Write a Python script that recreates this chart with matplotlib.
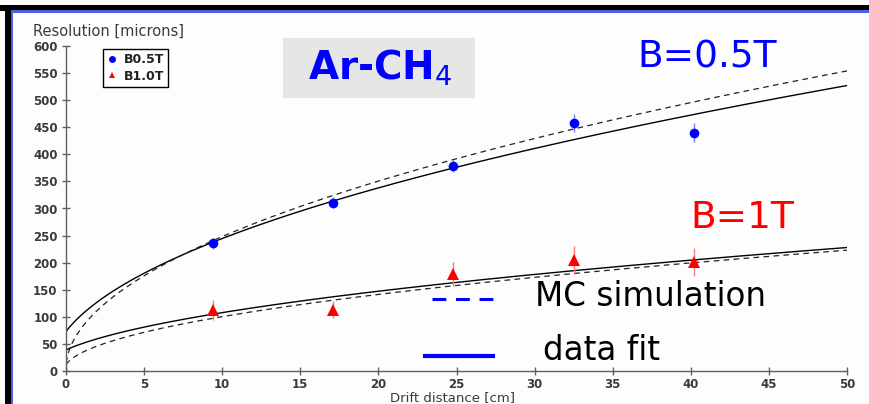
import numpy as np
import matplotlib
matplotlib.use("Agg")
import matplotlib.pyplot as plt
from matplotlib.lines import Line2D
from matplotlib.patches import Rectangle

# ---- data ----
drift_cm = [9.4, 17.1, 24.8, 32.5, 40.2]
res_b05 = [236, 311, 378, 458, 440]
err_b05 = [10, 10, 11, 16, 18]
res_b10 = [113, 113, 179, 205, 201]
err_b10 = [19, 16, 22, 25, 26]

# fit / simulation curves: sigma(x) = sqrt(s0^2 + D^2 * x)
fit_b05 = (73.0, 5448.0)
mc_b05 = (15.0, 6134.0)
fit_b10 = (39.0, 1009.0)
mc_b10 = (12.0, 992.0)

x_ticks = list(range(0, 51, 5))
y_ticks = list(range(0, 601, 50))

W, H = 869, 404
fig = plt.figure(figsize=(W / 100, H / 100), dpi=100, facecolor="#fdfdfd")

def fx(px):
    return px / W

def fy(py):
    return 1 - py / H

ax = fig.add_axes([fx(66), fy(371), fx(847) - fx(66), fy(46) - fy(371)])
ax.set_facecolor("none")
ax.set_xlim(0, 50)
ax.set_ylim(0, 600)
for s in ("top", "right"):
    ax.spines[s].set_visible(False)
for s in ("left", "bottom"):
    ax.spines[s].set_color("#606060")
    ax.spines[s].set_linewidth(1.0)
ax.set_xticks(x_ticks)
ax.set_yticks(y_ticks)
ax.tick_params(direction="inout", length=6, width=1, color="#606060",
               labelcolor="#3a3a3a")
ax.tick_params(axis="x", pad=2)
ax.tick_params(axis="y", pad=3)
for lab in ax.get_xticklabels() + ax.get_yticklabels():
    lab.set_fontweight("bold")
    lab.set_fontsize(8.5)

xx = np.linspace(0, 50, 400)
def model(p):
    s0, d2 = p
    return np.sqrt(s0 ** 2 + d2 * xx)

ax.plot(xx, model(fit_b05), color="black", lw=1.0, zorder=2)
ax.plot(xx, model(fit_b10), color="black", lw=1.0, zorder=2)
ax.plot(xx, model(mc_b05), color="#222222", lw=0.9, dashes=(4.5, 3.5), zorder=2)
ax.plot(xx, model(mc_b10), color="#222222", lw=0.9, dashes=(4.5, 3.5), zorder=2)

ax.errorbar(drift_cm, res_b05, yerr=err_b05, fmt="none", ecolor="#7a7aff",
            elinewidth=1.0, capsize=0, zorder=3)
ax.errorbar(drift_cm, res_b10, yerr=err_b10, fmt="none", ecolor="#ff7a7a",
            elinewidth=1.0, capsize=0, zorder=3)
ax.plot(drift_cm, res_b05, linestyle="none", marker="o", markersize=7,
        color="#0000ff", markeredgewidth=0, zorder=4)
ax.plot(drift_cm, res_b10, linestyle="none", marker="^", markersize=8.5,
        color="#ff0000", markeredgewidth=0, zorder=4)

# axis titles
fig.text(fx(33), fy(31), "Resolution [microns]", fontsize=10.5,
         color="#3a3a3a", ha="left", va="center")
fig.text(fx(452), fy(398), "Drift distance [cm]", fontsize=9.5,
         color="#3a3a3a", ha="center", va="center")

# legend
handles = [Line2D([], [], linestyle="none", marker="o", markersize=5,
                  color="#0000ff", markeredgewidth=0),
           Line2D([], [], linestyle="none", marker="^", markersize=5,
                  color="#ff0000", markeredgewidth=0)]
leg = ax.legend(handles, ["B0.5T", "B1.0T"], loc="upper left",
                bbox_to_anchor=(fx(103), fy(49)), bbox_transform=fig.transFigure,
                borderaxespad=0, fancybox=False, edgecolor="black", framealpha=1,
                handlelength=0.8, handletextpad=0.5, borderpad=0.35,
                labelspacing=0.25, prop={"weight": "bold", "size": 9})
leg.get_frame().set_linewidth(1.0)
for t in leg.get_texts():
    t.set_color("#222222")

# Ar-CH4 box
fig.add_artist(Rectangle((fx(283), fy(98)), fx(475) - fx(283), fy(38) - fy(98),
                         transform=fig.transFigure, facecolor="#e6e6e6",
                         edgecolor="none", zorder=1))
fig.text(fx(380), fy(68), "Ar-CH$_4$", fontsize=28, fontweight="bold",
         color="#0000ff", ha="center", va="center", zorder=5)

fig.text(fx(707), fy(58), "B=0.5T", fontsize=27, color="#0000ff",
         ha="center", va="center")
fig.text(fx(742), fy(218), "B=1T", fontsize=27, color="#ff0000",
         ha="center", va="center")
fig.text(fx(535), fy(296), "MC simulation", fontsize=23.5, color="black",
         ha="left", va="center")
fig.text(fx(543), fy(350), "data fit", fontsize=23.5, color="black",
         ha="left", va="center")

# legend keys for curves
fig.add_artist(Line2D([fx(432), fx(498)], [fy(299), fy(299)],
                      transform=fig.transFigure, color="#0000ff", lw=2.2,
                      dashes=(4.5, 3.2)))
fig.add_artist(Line2D([fx(425), fx(493)], [fy(356), fy(356)],
                      transform=fig.transFigure, color="#0000ff", lw=3.0))

# frame borders
fig.add_artist(Rectangle((0, fy(10.5)), 1, fy(5) - fy(10.5), transform=fig.transFigure,
                         facecolor="black", edgecolor="none"))
fig.add_artist(Rectangle((fx(5), 0), fx(11) - fx(5), fy(5), transform=fig.transFigure,
                         facecolor="black", edgecolor="none"))
fig.add_artist(Rectangle((fx(11), fy(12.5)), 1, fy(10.5) - fy(12.5),
                         transform=fig.transFigure, facecolor="#5060e0", edgecolor="none"))
fig.add_artist(Rectangle((fx(11), 0), fx(13) - fx(11), fy(10.5),
                         transform=fig.transFigure, facecolor="#5060e0", edgecolor="none"))

fig.savefig("out.png", dpi=100, facecolor=fig.get_facecolor())
